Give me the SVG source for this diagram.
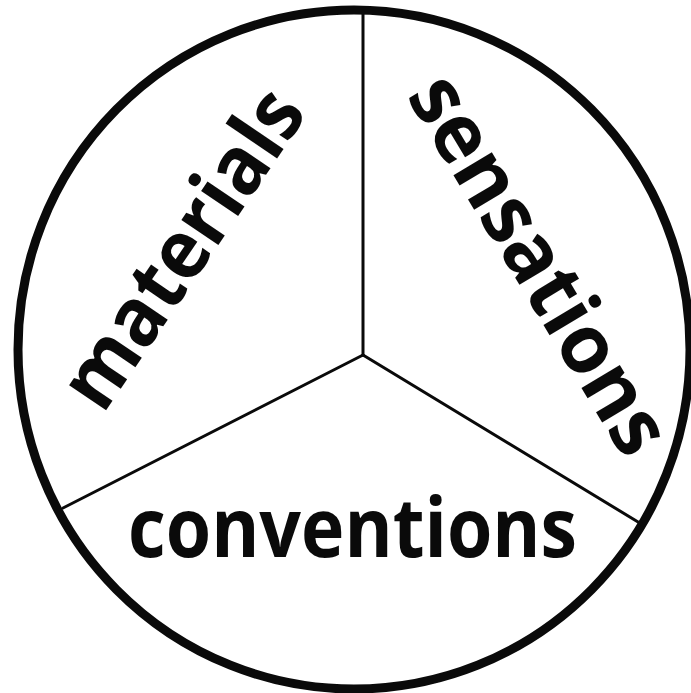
<svg xmlns="http://www.w3.org/2000/svg" width="691" height="693" viewBox="0 0 691 693">
<style>
.lbl{font-family:"Open Sans","Noto Sans","Liberation Sans",sans-serif;font-weight:700;font-size:82px;fill:#0a0a0a}
.spoke{stroke:#0a0a0a;stroke-width:3;fill:none;stroke-linecap:round}
</style>
<rect width="691" height="693" fill="#fff"/>
<g id="circle"><ellipse cx="354" cy="349.5" rx="336" ry="339.5" fill="none" stroke="#0a0a0a" stroke-width="9"/></g>
<g id="connectors">
<line class="spoke" x1="363" y1="355" x2="363" y2="12"/>
<line class="spoke" x1="363" y1="355" x2="63" y2="508"/>
<line class="spoke" x1="363" y1="355" x2="643" y2="525"/>
</g>
<g id="materials"><text class="lbl" transform="translate(205.5,264) rotate(-55.8)" text-anchor="middle" textLength="366" lengthAdjust="spacingAndGlyphs">materials</text></g>
<g id="sensations"><text class="lbl" transform="translate(515.6,278.7) rotate(59)" text-anchor="middle" textLength="427" lengthAdjust="spacingAndGlyphs">sensations</text></g>
<g id="conventions"><text class="lbl" x="352.5" y="557" text-anchor="middle" textLength="449" lengthAdjust="spacingAndGlyphs">conventions</text></g>
</svg>
